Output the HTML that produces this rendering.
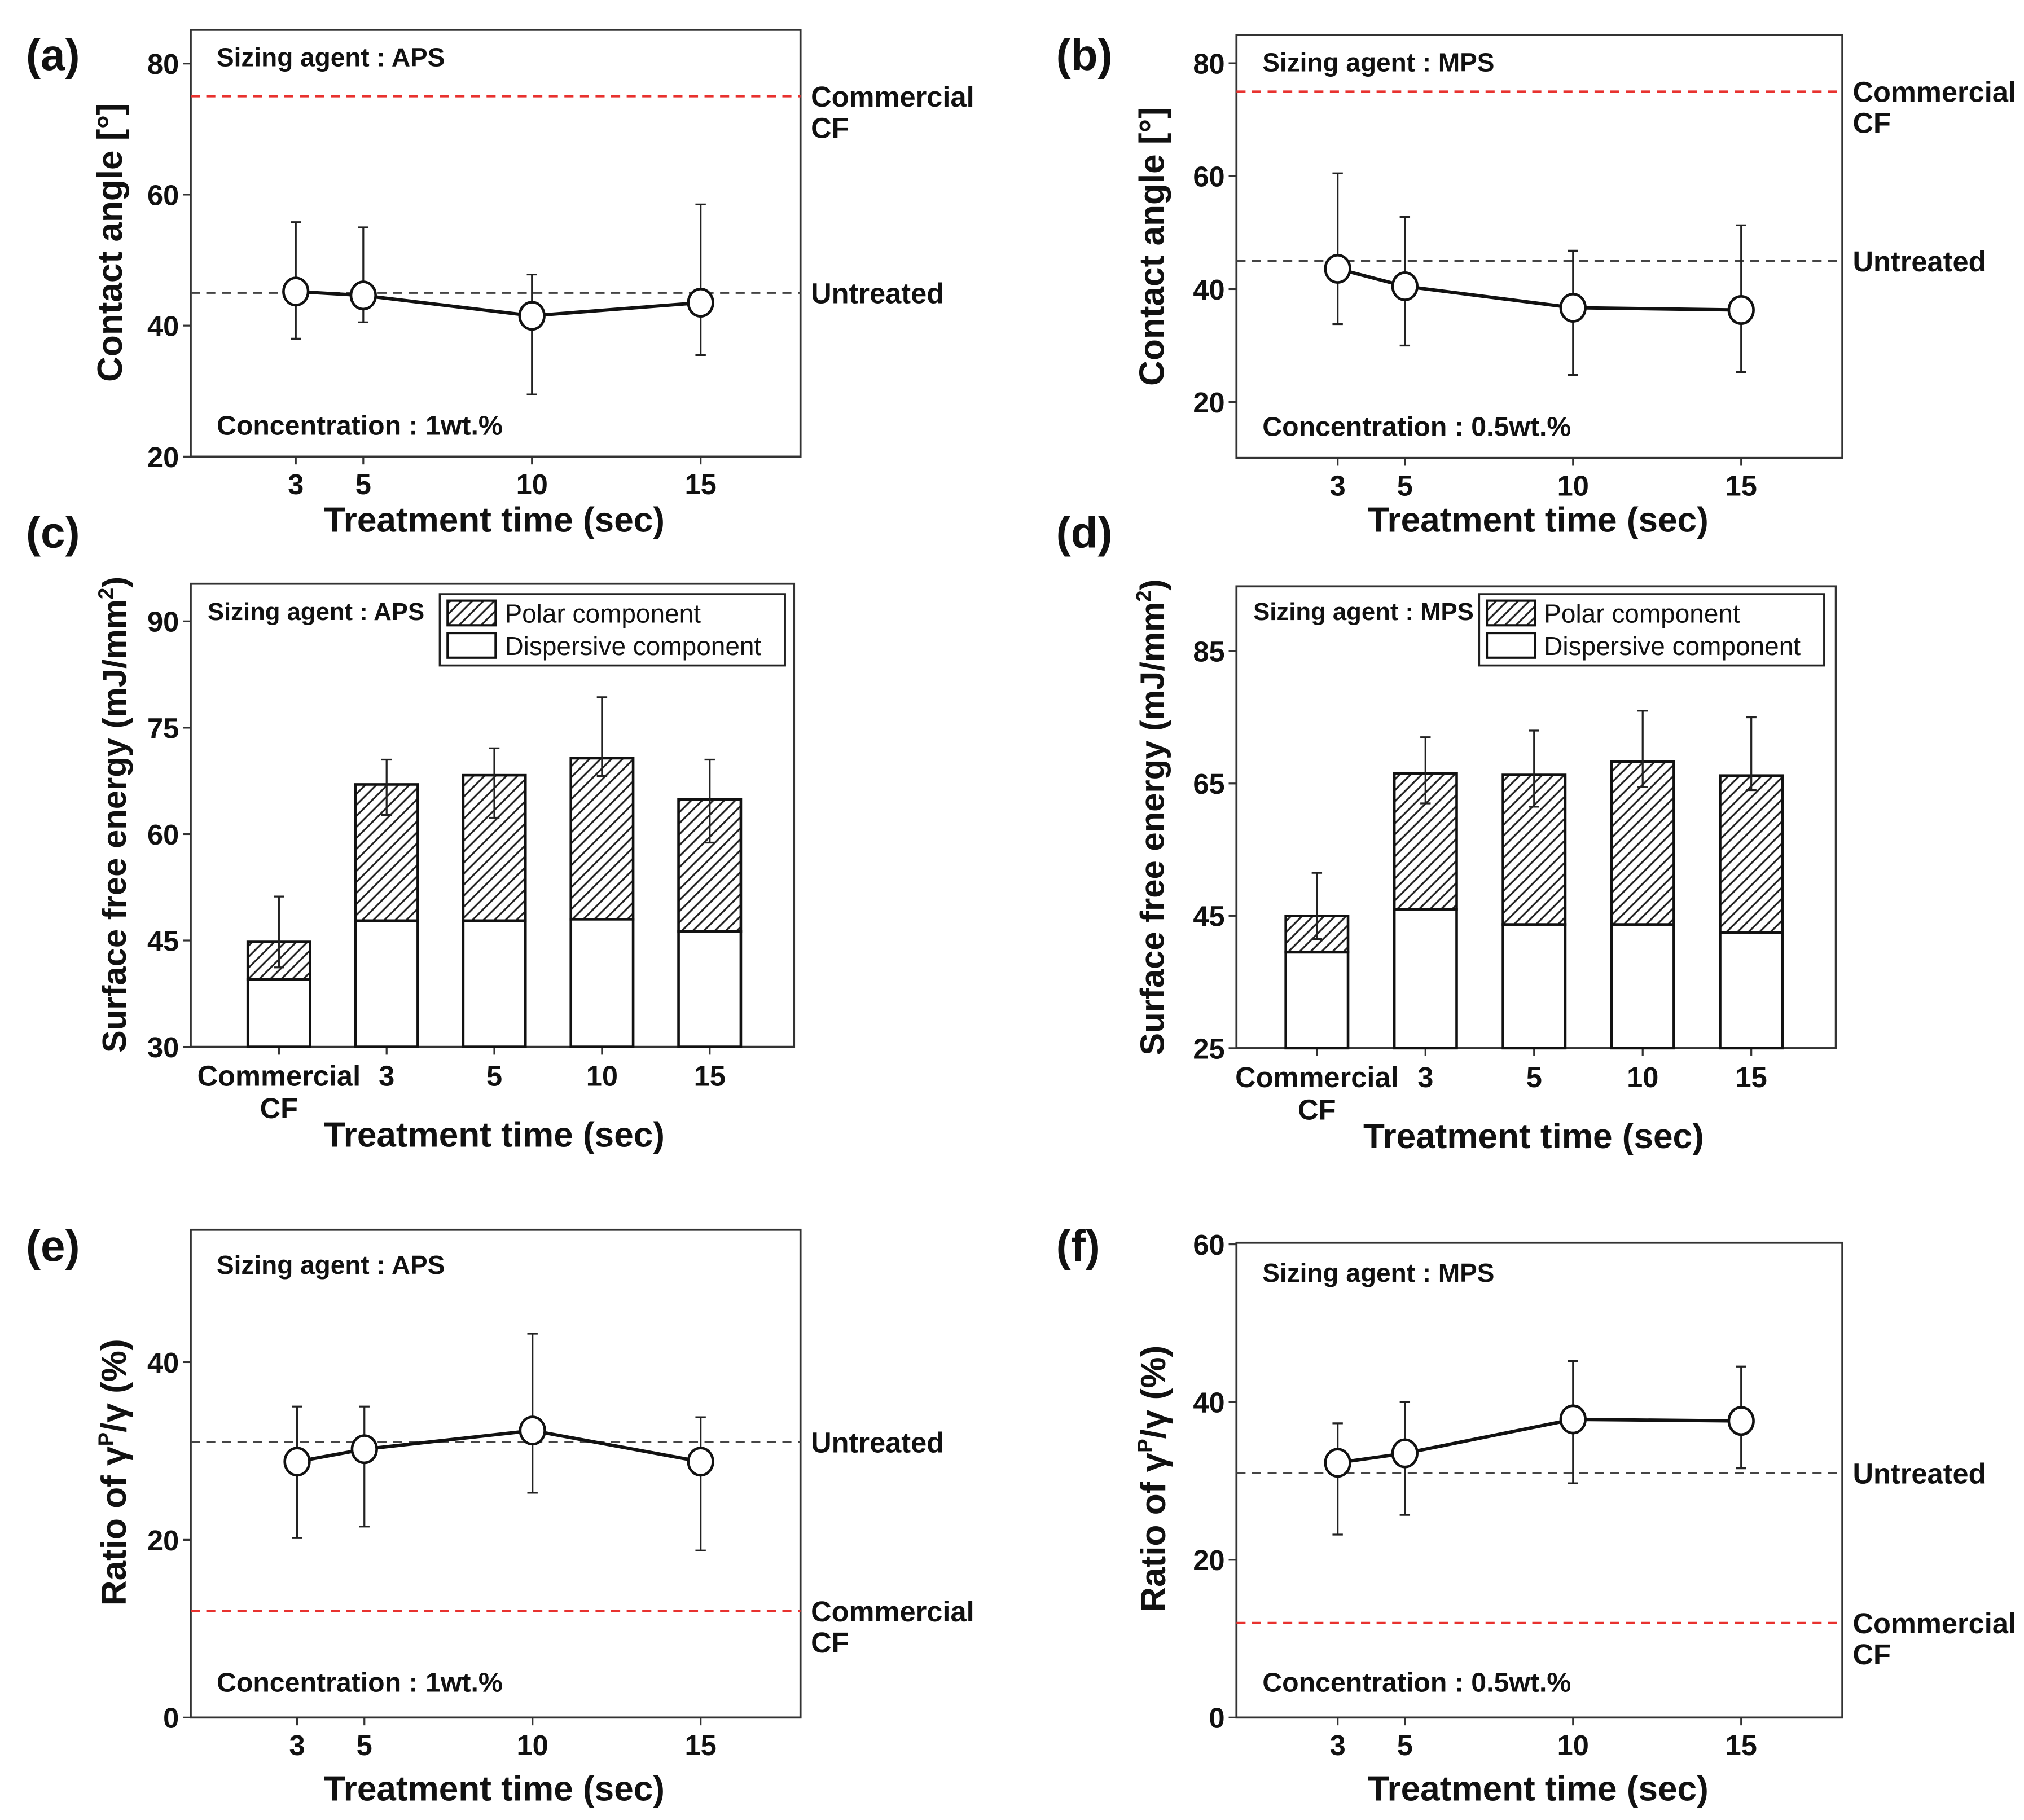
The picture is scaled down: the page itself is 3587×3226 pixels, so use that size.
<!DOCTYPE html>
<html><head><meta charset="utf-8"><style>
html,body{margin:0;padding:0;background:#fff;}
svg{display:block;}
text{font-family:"Liberation Sans Narrow","Liberation Sans",sans-serif;fill:#111;}
</style></head><body>
<svg id="fig" xmlns="http://www.w3.org/2000/svg" width="3587" height="3226" viewBox="0 0 1560 1403">
<defs>
<pattern id="hatch" patternUnits="userSpaceOnUse" width="6" height="6" patternTransform="rotate(-45)">
<rect width="6" height="6" fill="#fff"/><line x1="0" y1="3" x2="6" y2="3" stroke="#222" stroke-width="1.4"/>
</pattern>
</defs>
</svg>
<script>
// ---------- DATA ----------
const timeCats = [3, 5, 10, 15];
const caAPS = [45.2, 44.6, 41.5, 43.5];
const caAPSLo = [38, 40.5, 29.5, 35.5];
const caAPSHi = [55.8, 55, 47.8, 58.5];
const caMPS = [43.6, 40.5, 36.7, 36.3];
const caMPSLo = [33.8, 30, 24.8, 25.3];
const caMPSHi = [60.5, 52.8, 46.8, 51.3];
const barCats = ["Commercial", "3", "5", "10", "15"];
const sfeAPSDisp = [39.5, 47.8, 47.8, 48, 46.3];
const sfeAPSTotal = [44.8, 67, 68.3, 70.7, 64.9];
const sfeAPSLo = [41.2, 62.7, 62.3, 68.2, 58.8];
const sfeAPSHi = [51.2, 70.5, 72.1, 79.3, 70.5];
const sfeMPSDisp = [39.5, 46, 43.7, 43.7, 42.5];
const sfeMPSTotal = [45, 66.5, 66.3, 68.3, 66.2];
const sfeMPSLo = [41.5, 62, 61.5, 64.5, 64];
const sfeMPSHi = [51.5, 72, 73, 76, 75];
const ratAPS = [28.8, 30.2, 32.3, 28.8];
const ratAPSLo = [20.2, 21.5, 25.3, 18.8];
const ratAPSHi = [35, 35, 43.2, 33.8];
const ratMPS = [32.3, 33.5, 37.8, 37.6];
const ratMPSLo = [23.2, 25.7, 29.7, 31.6];
const ratMPSHi = [37.3, 40, 45.2, 44.5];
const caTicks = [20, 40, 60, 80];
const caTicksB = [20, 40, 60, 80];
const sfeTicksA = [30, 45, 60, 75, 90];
const sfeTicksB = [25, 45, 65, 85];
const ratTicksA = [0, 20, 40];
const ratTicksB = [0, 20, 40, 60];
const refCommercialCA = 75, refUntreatedCA = 45;
const refCommercialRat = 12, refUntreatedRat = 31;

// ---------- HELPERS ----------
const svg = document.getElementById('fig');
const NS = 'http://www.w3.org/2000/svg';
function mk(tag, attrs, parent) {
  const e = document.createElementNS(NS, tag);
  for (const k in attrs) e.setAttribute(k, attrs[k]);
  (parent || svg).appendChild(e);
  return e;
}
function txt(x, y, s, size, anchor, parent, extra) {
  const t = mk('text', Object.assign({x: x, y: y, 'font-size': size, 'text-anchor': anchor || 'start', 'font-weight': 'bold'}, extra || {}), parent);
  t.textContent = s;
  return t;
}
function linScale(d0, d1, r0, r1) { return v => r0 + (v - d0) * (r1 - r0) / (d1 - d0); }

function frame(g, box, yScale, ticks) {
  const r = mk('rect', {x: box.x0, y: box.y0, width: box.x1 - box.x0, height: box.y1 - box.y0, fill: 'none', stroke: '#333', 'stroke-width': 1.6}, g);
  
  
  ticks.forEach(v => {
    const y = yScale(v);
    const l = mk('line', {x1: box.x0 - 6, x2: box.x0, y1: y, y2: y, stroke: '#333', 'stroke-width': 1.4}, g);
    
    
    const t = txt(box.x0 - 9, y + 8, String(v), 22, 'end', g);
    
    
  });
}
function hline(g, box, y, color, name) {
  const l = mk('line', {x1: box.x0, x2: box.x1, y1: y, y2: y, stroke: color, 'stroke-width': 1.6, 'stroke-dasharray': '7,5'}, g);
  
  
}
function errbar(g, x, yLo, yHi, name) {
  const e = mk('g', {}, g);
  
  
  mk('line', {x1: x, x2: x, y1: yLo, y2: yHi, stroke: '#222', 'stroke-width': 1.4}, e);
  mk('line', {x1: x - 4, x2: x + 4, y1: yLo, y2: yLo, stroke: '#222', 'stroke-width': 1.4}, e);
  mk('line', {x1: x - 4, x2: x + 4, y1: yHi, y2: yHi, stroke: '#222', 'stroke-width': 1.4}, e);
}

function linePanel(opt) {
  const g = mk('g', {});
  
  
  const box = opt.box;
  const ys = linScale(opt.yDom[0], opt.yDom[1], box.y1, box.y0);
  const xs = linScale(3, 15, opt.x3, opt.x15);
  frame(g, box, ys, opt.ticks);
  hline(g, box, ys(opt.refC), '#e8322f', 'commercial-cf-line');
  hline(g, box, ys(opt.refU), '#444', 'untreated-line');
  // labels
  const lc = txt(box.x1 + 8, ys(opt.refC) + 8, 'Commercial', 22, 'start', g);
  
  
  const lc2 = txt(box.x1 + 8, ys(opt.refC) + 32, 'CF', 22, 'start', g);
  
  
  const lu = txt(box.x1 + 8, ys(opt.refU) + 8, 'Untreated', 22, 'start', g);
  
  
  timeCats.forEach((t, i) => {
    const x = xs(t);
    const tk = mk('line', {x1: x, x2: x, y1: box.y1, y2: box.y1 + 6, stroke: '#333', 'stroke-width': 1.4}, g);
    
    
    const tl = txt(x, box.y1 + 29, String(t), 22, 'middle', g);
    
    
    errbar(g, x, ys(opt.lo[i]), ys(opt.hi[i]), 'error-bar-' + t);
  });
  const pts = timeCats.map((t, i) => xs(t) + ',' + ys(opt.vals[i])).join(' ');
  const pl = mk('polyline', {points: pts, fill: 'none', stroke: '#111', 'stroke-width': 2.6}, g);
  
  
  timeCats.forEach((t, i) => {
    const c = mk('ellipse', {cx: xs(t), cy: ys(opt.vals[i]), rx: 9.5, ry: 10.5, fill: '#fff', stroke: '#111', 'stroke-width': 2}, g);
    
    
  });
  const a1 = txt(box.x0 + 20, opt.topTextY, opt.agent, 20, 'start', g);
  
  
  const a2 = txt(box.x0 + 20, opt.botTextY, opt.conc, 21, 'start', g);
  
  
  const xt = txt((box.x0 + box.x1) / 2 - 1, opt.xTitleY, 'Treatment time (sec)', 27, 'middle', g);
  
  
  const yt = txt(0, 0, opt.yTitle, 27, 'middle', g, {transform: 'translate(' + opt.yTitleX + ',' + opt.yTitleY + ') rotate(-90)'});
  
  
  if (opt.rich) { yt.textContent = ''; opt.rich(yt); }
  const pl2 = txt(opt.labelX, opt.labelY, opt.label, 34, 'start', g);
  
  
}

function barPanel(opt) {
  const g = mk('g', {});
  
  
  const box = opt.box;
  const ys = linScale(opt.yDom[0], opt.yDom[1], box.y1, box.y0);
  const xs = i => opt.c0 + i * opt.step;
  frame(g, box, ys, opt.ticks);
  const bw = 48;
  barCats.forEach((c, i) => {
    const x = xs(i);
    const tk = mk('line', {x1: x, x2: x, y1: box.y1, y2: box.y1 + 6, stroke: '#333', 'stroke-width': 1.4}, g);
    
    
    const tl = txt(x, box.y1 + 30, c, 22, 'middle', g);
    
    
    const d = mk('rect', {x: x - bw / 2, y: ys(opt.disp[i]), width: bw, height: ys(opt.yDom[0]) - ys(opt.disp[i]), fill: '#fff', stroke: '#111', 'stroke-width': 2}, g);
    
    
    const p = mk('rect', {x: x - bw / 2, y: ys(opt.total[i]), width: bw, height: ys(opt.disp[i]) - ys(opt.total[i]), fill: 'url(#hatch)', stroke: '#111', 'stroke-width': 2}, g);
    
    
    errbar(g, x, ys(opt.lo[i]), ys(opt.hi[i]), 'error-bar-' + c);
  });
  const cf = txt(xs(0), box.y1 + 55, 'CF', 22, 'middle', g);
  
  
  // legend
  const lg = mk('g', {}, g);
  
  
  const L = opt.legend;
  mk('rect', {x: L.x, y: L.y, width: 266, height: 55, fill: '#fff', stroke: '#222', 'stroke-width': 1.6}, lg);
  mk('rect', {x: L.x + 6, y: L.y + 5, width: 37, height: 19, fill: 'url(#hatch)', stroke: '#111', 'stroke-width': 1.8}, lg);
  mk('rect', {x: L.x + 6, y: L.y + 30, width: 37, height: 19, fill: '#fff', stroke: '#111', 'stroke-width': 1.8}, lg);
  const e1 = txt(L.x + 50, L.y + 22, 'Polar component', 20, 'start', lg, {'font-weight': 'normal'});
  
  
  const e2 = txt(L.x + 50, L.y + 47, 'Dispersive component', 20, 'start', lg, {'font-weight': 'normal'});
  
  
  const a1 = txt(box.x0 + 13, opt.topTextY, opt.agent, 19, 'start', g);
  
  
  const xt = txt(opt.xTitleX, opt.xTitleY, 'Treatment time (sec)', 27, 'middle', g);
  
  
  const yt = mk('text', {'font-size': 26, 'text-anchor': 'middle', 'font-weight': 'bold', transform: 'translate(' + opt.yTitleX + ',' + opt.yTitleY + ') rotate(-90)'}, g);
  
  
  yt.appendChild(document.createTextNode('Surface free energy (mJ/mm'));
  const sup = mk('tspan', {'font-size': 16, dy: -10}, yt); sup.textContent = '2';
  const cl = mk('tspan', {dy: 10}, yt); cl.textContent = ')';
  const pl2 = txt(opt.labelX, opt.labelY, opt.label, 34, 'start', g);
  
  
}

function ratioTitle(el) {
  el.appendChild(document.createTextNode('Ratio of \u03B3'));
  const s = mk('tspan', {'font-size': 16, dy: -10}, el); s.textContent = 'P';
  const r = mk('tspan', {dy: 10}, el); r.textContent = '/\u03B3 (%)';
}

linePanel({name: 'panel-a', box: {x0: 147, x1: 617, y0: 23, y1: 352}, yDom: [20, 80], yMaxPx: 49,
  ticks: caTicks, x3: 228, x15: 540, vals: caAPS, lo: caAPSLo, hi: caAPSHi,
  refC: refCommercialCA, refU: refUntreatedCA, agent: 'Sizing agent : APS', conc: 'Concentration : 1wt.%',
  topTextY: 51, botTextY: 335, xTitleY: 410, yTitle: 'Contact angle [\u00B0]', yTitleX: 94, yTitleY: 187,
  label: '(a)', labelX: 20, labelY: 54});
</script>
<script>
// panel a used box y0 for top of scale; fix domain so 80 maps to y=49 -> override by rebuilding with adjusted domain
</script>
<script>
// remove and redraw all with calibrated domains
while (svg.lastChild && svg.lastChild.tagName !== 'defs') svg.removeChild(svg.lastChild);
linePanel({name: 'panel-a', box: {x0: 147, x1: 617, y0: 23, y1: 352}, yDom: [20, 85.15],
  ticks: caTicks, x3: 228, x15: 540, vals: caAPS, lo: caAPSLo, hi: caAPSHi,
  refC: refCommercialCA, refU: refUntreatedCA, agent: 'Sizing agent : APS', conc: 'Concentration : 1wt.%',
  topTextY: 51, botTextY: 335, xTitleY: 410, yTitle: 'Contact angle [\u00B0]', yTitleX: 94, yTitleY: 187,
  label: '(a)', labelX: 20, labelY: 54});
linePanel({name: 'panel-b', box: {x0: 953, x1: 1420, y0: 27, y1: 353}, yDom: [10.1, 85],
  ticks: caTicksB, x3: 1031, x15: 1342, vals: caMPS, lo: caMPSLo, hi: caMPSHi,
  refC: refCommercialCA, refU: refUntreatedCA, agent: 'Sizing agent : MPS', conc: 'Concentration : 0.5wt.%',
  topTextY: 55, botTextY: 336, xTitleY: 410, yTitle: 'Contact angle [\u00B0]', yTitleX: 897, yTitleY: 190,
  label: '(b)', labelX: 814, labelY: 54});
barPanel({name: 'panel-c', box: {x0: 147, x1: 612, y0: 450, y1: 807}, yDom: [30, 95.3], ticks: sfeTicksA,
  c0: 215, step: 83, disp: sfeAPSDisp, total: sfeAPSTotal, lo: sfeAPSLo, hi: sfeAPSHi,
  legend: {x: 339, y: 458}, agent: 'Sizing agent : APS', topTextY: 478, xTitleX: 381, xTitleY: 884,
  yTitleX: 97, yTitleY: 628, label: '(c)', labelX: 20, labelY: 422});
barPanel({name: 'panel-d', box: {x0: 953, x1: 1415, y0: 452, y1: 808}, yDom: [25, 94.8], ticks: sfeTicksB,
  c0: 1015, step: 83.7, disp: sfeMPSDisp, total: sfeMPSTotal, lo: sfeMPSLo, hi: sfeMPSHi,
  legend: {x: 1140, y: 458}, agent: 'Sizing agent : MPS', topTextY: 478, xTitleX: 1182, xTitleY: 885,
  yTitleX: 897, yTitleY: 630, label: '(d)', labelX: 814, labelY: 422});
linePanel({name: 'panel-e', box: {x0: 147, x1: 617, y0: 948, y1: 1324}, yDom: [0, 54.9],
  ticks: ratTicksA, x3: 229, x15: 540, vals: ratAPS, lo: ratAPSLo, hi: ratAPSHi,
  refC: refCommercialRat, refU: refUntreatedRat, agent: 'Sizing agent : APS', conc: 'Concentration : 1wt.%',
  topTextY: 982, botTextY: 1304, xTitleY: 1388, yTitle: '', rich: ratioTitle, yTitleX: 97, yTitleY: 1135,
  label: '(e)', labelX: 20, labelY: 972});
linePanel({name: 'panel-f', box: {x0: 953, x1: 1420, y0: 958, y1: 1324}, yDom: [0, 60.2],
  ticks: ratTicksB, x3: 1031, x15: 1342, vals: ratMPS, lo: ratMPSLo, hi: ratMPSHi,
  refC: refCommercialRat, refU: refUntreatedRat, agent: 'Sizing agent : MPS', conc: 'Concentration : 0.5wt.%',
  topTextY: 988, botTextY: 1304, xTitleY: 1388, yTitle: '', rich: ratioTitle, yTitleX: 898, yTitleY: 1140,
  label: '(f)', labelX: 814, labelY: 972});
</script>
</body></html>
